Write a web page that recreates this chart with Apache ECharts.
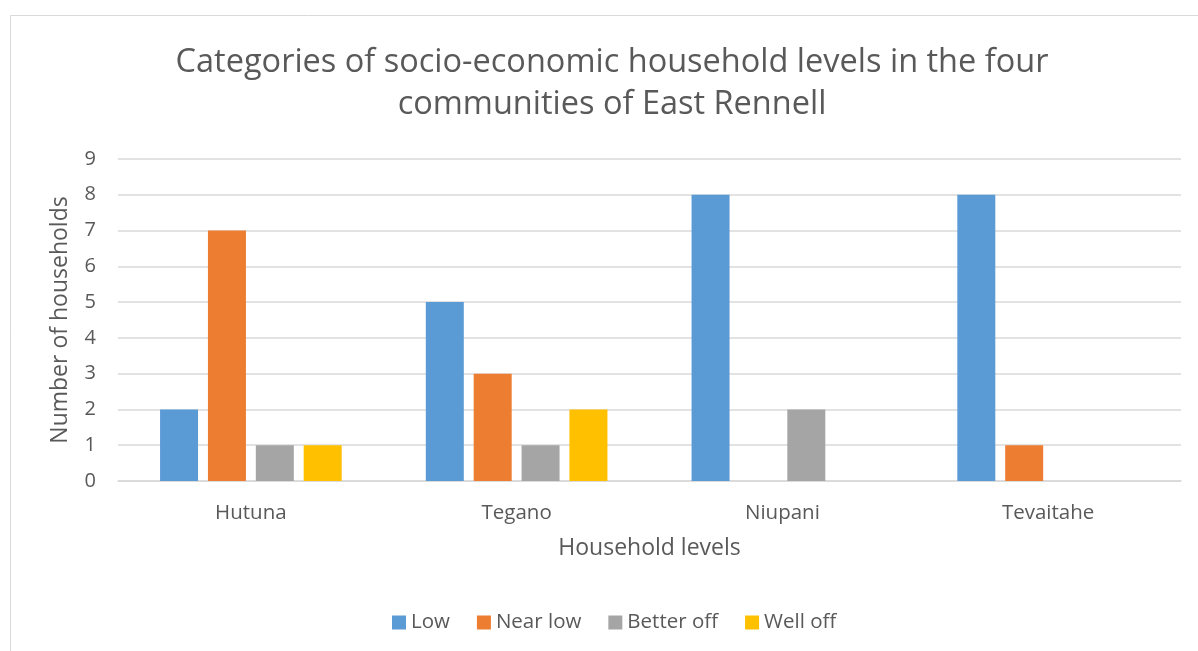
<!DOCTYPE html>
<html><head><meta charset="utf-8">
<script src="https://cdn.jsdelivr.net/npm/echarts@6/dist/echarts.min.js"></script>
<style>html,body{margin:0;padding:0;background:#fff}#c{width:1198px;height:651px}</style>
</head><body><div id="c"></div>
<script>
const titleText = 'Categories of socio-economic household levels in the four\ncommunities of East Rennell';
const categories = ['Hutuna', 'Tegano', 'Niupani', 'Tevaitahe'];
const seriesNames = ['Low', 'Near low', 'Better off', 'Well off'];
const low = [2, 5, 8, 8];
const nearLow = [7, 3, 0, 1];
const betterOff = [1, 1, 2, 0];
const wellOff = [1, 2, 0, 0];
const yTicks = [0, 1, 2, 3, 4, 5, 6, 7, 8, 9];
const colors = ['#5B9BD5', '#ED7D31', '#A5A5A5', '#FFC000'];
const values = [low, nearLow, betterOff, wellOff];
const font = '"Open Sans", sans-serif';
const chart = echarts.init(document.getElementById('c'), null, {renderer: 'canvas'});
chart.setOption({
  animation: false,
  color: colors,
  textStyle: {fontFamily: font},
  graphic: [{type: 'rect', shape: {x: 10.5, y: 15.5, width: 1200, height: 700}, style: {fill: 'none', stroke: '#d9d9d9', lineWidth: 1}, silent: true}],
  title: {
    text: titleText, left: 607, top: 37, textAlign: 'center',
    textStyle: {fontFamily: font, fontSize: 32.5, fontWeight: 'normal', color: '#595959', lineHeight: 42}
  },
  grid: {left: 118, right: 17, top: 159, bottom: 170},
  legend: {
    top: 607, left: 387, itemWidth: 14, itemHeight: 14, itemGap: 27, itemStyle: {borderWidth: 0},
    icon: 'rect',
    textStyle: {fontFamily: font, fontSize: 20.5, color: '#595959'},
    data: seriesNames
  },
  xAxis: {
    type: 'category', data: categories,
    axisLine: {lineStyle: {color: '#d9d9d9', width: 1.5}},
    axisTick: {show: false},
    axisLabel: {fontFamily: font, fontSize: 20.5, color: '#595959', margin: 22},
    name: 'Household levels', nameLocation: 'middle', nameGap: 56,
    nameTextStyle: {fontFamily: font, fontSize: 23, color: '#595959'}
  },
  yAxis: {
    type: 'value', min: yTicks[0], max: yTicks[yTicks.length - 1], interval: 1,
    axisLine: {show: false}, axisTick: {show: false},
    splitLine: {lineStyle: {color: '#d9d9d9', width: 1.5}},
    axisLabel: {fontFamily: font, fontSize: 20, color: '#595959', margin: 22},
    name: 'Number of households', nameLocation: 'middle', nameGap: 46,
    nameTextStyle: {fontFamily: font, fontSize: 23, color: '#595959'}
  },
  series: seriesNames.map((n, i) => ({
    name: n, type: 'bar', data: values[i], barWidth: 38, barGap: '26%',
    itemStyle: {color: colors[i]}
  }))
});
</script></body></html>
